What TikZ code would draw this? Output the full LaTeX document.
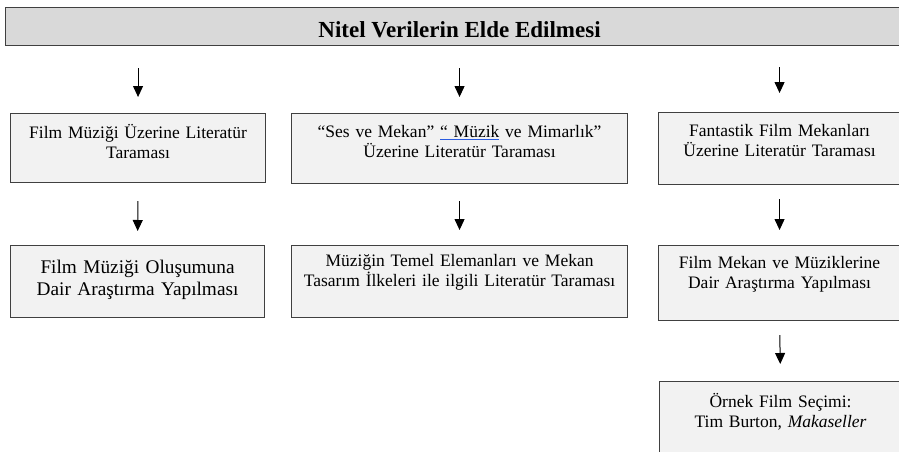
\documentclass[tikz,border=0pt]{standalone}
\usepackage{fontspec}
\setmainfont{Liberation Serif}
\usetikzlibrary{arrows.meta}
\definecolor{boxfill}{HTML}{F2F2F2}
\definecolor{titlefill}{HTML}{D9D9D9}
\definecolor{edgegray}{HTML}{404040}
\definecolor{ulblue}{HTML}{2A5BE0}
\newcommand{\spellul}[1]{\setbox0\hbox{#1}\rlap{\color{ulblue}\rule[-2.6pt]{\wd0}{1.2pt}}\box0\relax}

\begin{document}
\begin{tikzpicture}[x=1pt, y=-1pt,
    box/.style={draw=edgegray, line width=1.1pt, fill=boxfill, anchor=north west,
      inner sep=0pt, align=center, font={\fontsize{17.5}{20}\selectfont}},
    arrow/.style={-{Triangle[width=10pt,length=11pt]}, line width=1pt}]
        \useasboundingbox (0,0) rectangle (899,452);
        \clip (0,0) rectangle (899,452);
        % title bar
        \node[draw=edgegray, line width=1.1pt, fill=titlefill, anchor=north west, inner sep=0pt,
          minimum width=908pt, text height=30pt, text depth=8pt,
          font={\bfseries\fontsize{23}{26}\selectfont}] (title) at (5,7) {Nitel Verilerin Elde Edilmesi};
        % first row
        \node[box, text width=255pt, text height=25pt, text depth=44pt] (b1) at (10,113)
          {Film Müziği Üzerine Literatür\\Taraması};
        \node[box, text width=336pt, text height=24pt, text depth=46pt] (b2) at (291,113)
          {“Ses ve Mekan” \spellul{“ Müzik} ve Mimarlık”\\Üzerine Literatür Taraması};
        \node[box, text width=242pt, text height=24pt, text depth=48pt] (b3) at (658,112)
          {Fantastik Film Mekanları\\Üzerine Literatür Taraması};
        % second row
        \node[box, text width=254pt, text height=28pt, text depth=44pt,
          font={\fontsize{19.3}{22}\selectfont}] (b4) at (10,245)
          {Film Müziği Oluşumuna\\Dair Araştırma Yapılması};
        \node[box, text width=336pt, text height=21pt, text depth=51pt] (b5) at (291,245)
          {Müziğin Temel Elemanları ve Mekan\\Tasarım İlkeleri ile ilgili Literatür Taraması};
        \node[box, text width=242pt, text height=23pt, text depth=52pt] (b6) at (658,245)
          {Film Mekan ve Müziklerine\\Dair Araştırma Yapılması};
        % third row
        \node[box, text width=242pt, text height=26pt, text depth=64pt] (b7) at (659,381)
          {Örnek Film Seçimi:\\Tim Burton, \textit{Makaseller}};
        % arrows
        \draw[arrow, shorten <=22pt, shorten >=16pt] (title.south -| b1.north) -- (b1.north);
        \draw[arrow, shorten <=22pt, shorten >=16pt] (title.south -| b2.north) -- (b2.north);
        \draw[arrow, shorten <=21pt, shorten >=19pt] (title.south -| b3.north) -- (b3.north);
        \draw[arrow, shorten <=18pt, shorten >=14pt] (b1.south) -- (b4.north);
        \draw[arrow, shorten <=17pt, shorten >=15pt] (b2.south) -- (b5.north);
        \draw[arrow, shorten <=14pt, shorten >=15pt] (b3.south) -- (b6.north);
        \draw[arrow, shorten <=14pt, shorten >=17pt] (b6.south) -- (b7.north);
    \end{tikzpicture}
\end{document}
